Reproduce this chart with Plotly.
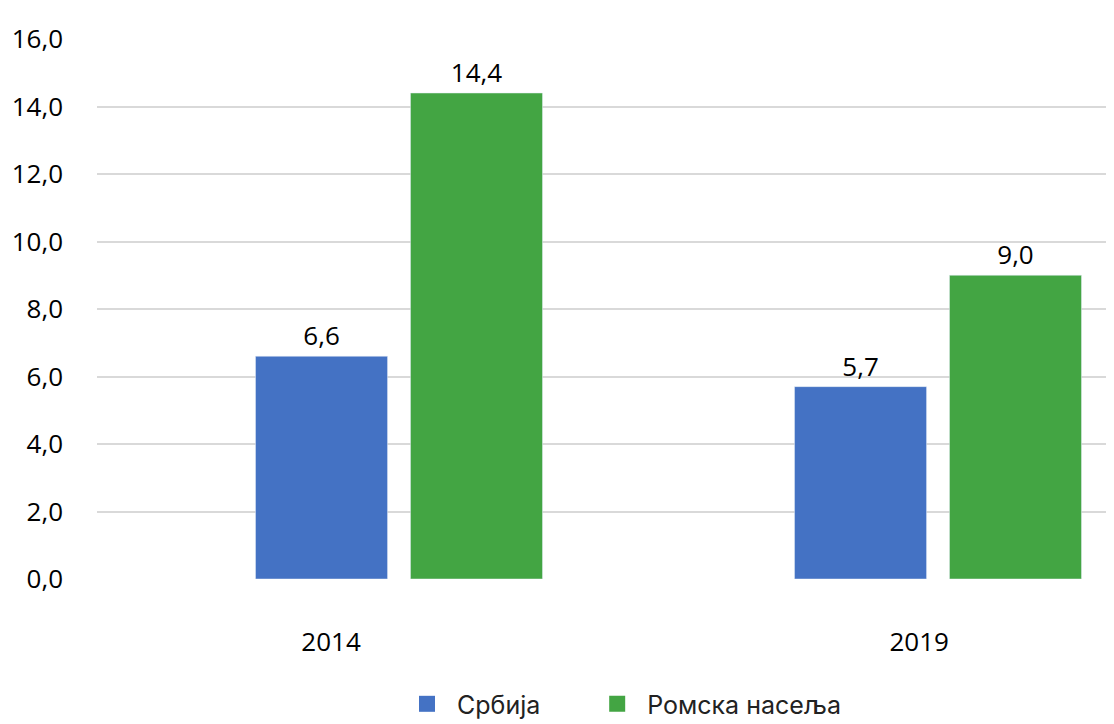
import plotly.graph_objects as go

years = ["2014", "2019"]
srbija = [6.6, 5.7]
romska = [14.4, 9.0]
series_names = ["Србија", "Ромска насеља"]
colors = ["#4472C4", "#43A543"]
y_ticks = [0, 2, 4, 6, 8, 10, 12, 14, 16]

x_pos = [0, 1]
fmt = lambda v: f"{v:.1f}".replace(".", ",")

fig = go.Figure()
for vals, name, col in zip([srbija, romska], series_names, colors):
    fig.add_trace(go.Bar(
        x=x_pos, y=vals, name=name, marker_color=col, showlegend=False,
        text=[fmt(v) for v in vals], textposition="outside", cliponaxis=False,
        textfont=dict(size=26, color="#000000", family="Open Sans"),
    ))
# legend entries (one legend per entry for precise placement)
legend_ids = ["legend", "legend2"]
for name, col, lg in zip(series_names, colors, legend_ids):
    fig.add_trace(go.Scatter(
        x=[None], y=[None], mode="markers", name=name, legend=lg,
        marker=dict(symbol="square", size=25, color=col),
    ))

legend_style = dict(orientation="h", xanchor="left", y=-0.189, yanchor="top",
                    font=dict(family="Inter", size=25, color="#222222"),
                    itemsizing="trace", itemwidth=50, bgcolor="rgba(0,0,0,0)")

fig.update_layout(
    width=1114, height=724,
    margin=dict(l=89, r=8, t=31, b=153, autoexpand=False),
    paper_bgcolor="white", plot_bgcolor="white",
    barmode="group", bargap=0.425, bargroupgap=0.148,
    font=dict(family="Open Sans", size=26, color="#000000"),
    showlegend=True,
    legend=dict(x=0.295, **legend_style),
    legend2=dict(x=0.482, **legend_style),
    xaxis=dict(range=[-0.5603, 1.3265], tickmode="array",
               tickvals=[-0.126, 0.965], ticktext=years, automargin=False,
               showgrid=False, zeroline=False, showline=False, ticks="",
               ticklabelstandoff=45, tickfont=dict(size=26)),
    yaxis=dict(range=[0, 16], tickmode="array", tickvals=y_ticks,
               ticktext=[fmt(v) for v in y_ticks], automargin=False,
               showgrid=True, gridcolor="#D9D9D9", gridwidth=2,
               zeroline=False, showline=False, ticks="",
               ticklabelstandoff=33, tickfont=dict(size=26)),
)

fig.write_html("out.html")
